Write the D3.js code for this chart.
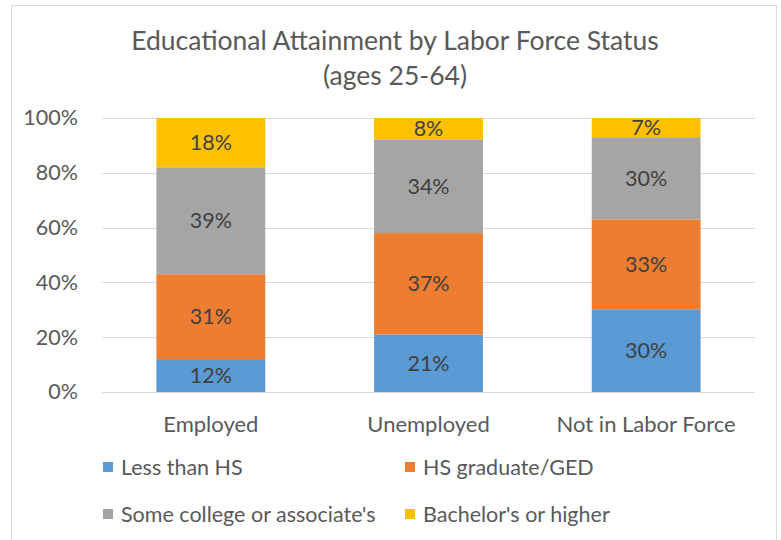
<!DOCTYPE html>
<html>
<head>
<meta charset="utf-8">
<script src="https://d3js.org/d3.v7.min.js"></script>
<style>
html,body{margin:0;padding:0;background:#fff;}
svg{display:block;font-family:Lato,"Open Sans",sans-serif;}
</style>
</head>
<body>
<svg id="chart" width="781" height="540"></svg>
<script>
const categories = ["Employed", "Unemployed", "Not in Labor Force"];
const seriesNames = ["Less than HS", "HS graduate/GED", "Some college or associate's", "Bachelor's or higher"];
const lessThanHS = [12, 21, 30];
const hsGraduate = [31, 37, 33];
const someCollege = [39, 34, 30];
const bachelors = [18, 8, 7];
const colors = ["#5B9BD5", "#ED7D31", "#A5A5A5", "#FFC000"];
const yTicks = [0, 20, 40, 60, 80, 100];

const seriesValues = [lessThanHS, hsGraduate, someCollege, bachelors];
const table = categories.map((c, i) => {
  const row = {category: c};
  seriesNames.forEach((s, j) => row[s] = seriesValues[j][i]);
  return row;
});
const stacked = d3.stack().keys(seriesNames)(table);

const svg = d3.select("#chart");
// chart border
svg.append("rect").attr("x", 11.5).attr("y", 5.5).attr("width", 765).attr("height", 545)
  .attr("fill", "#fff").attr("stroke", "#D9D9D9").attr("stroke-width", 1);

const x = d3.scaleBand().domain(categories).range([102, 755]).paddingInner(0.5).paddingOuter(0.25);
const y = d3.scaleLinear().domain([0, 100]).range([392, 118]);

// title
const title = svg.append("text").attr("text-anchor", "middle").attr("fill", "#595959")
  .attr("font-size", 26.5);
title.append("tspan").attr("x", 395).attr("y", 50).text("Educational Attainment by Labor Force Status");
title.append("tspan").attr("x", 395).attr("y", 85).text("(ages 25-64)");

// gridlines
svg.append("g").selectAll("line").data(yTicks).join("line")
  .attr("x1", 102).attr("x2", 755)
  .attr("y1", d => Math.round(y(d)) + 0.5).attr("y2", d => Math.round(y(d)) + 0.5)
  .attr("stroke", "#D9D9D9").attr("stroke-width", 1);

// y axis
const yAxis = d3.axisLeft(y).tickValues(yTicks).tickFormat(d => d + "%").tickSize(0).tickPadding(0);
const ga = svg.append("g").attr("transform", "translate(78,0)").call(yAxis);
ga.select(".domain").remove();
ga.selectAll("text").attr("font-size", 21.5).attr("fill", "#595959").attr("font-family", "Lato,sans-serif");

// bars
const layers = svg.append("g").selectAll("g").data(stacked).join("g")
  .attr("fill", (d, i) => colors[i]);
layers.selectAll("rect").data(d => d).join("rect")
  .attr("x", d => x(d.data.category))
  .attr("width", x.bandwidth())
  .attr("y", d => y(d[1]))
  .attr("height", d => y(d[0]) - y(d[1]));

// data labels
const lab = svg.append("g");
stacked.forEach((s, i) => {
  lab.selectAll(null).data(s).join("text")
    .attr("x", d => x(d.data.category) + x.bandwidth() / 2)
    .attr("y", d => (y(d[0]) + y(d[1])) / 2)
    .attr("dy", "0.35em")
    .attr("text-anchor", "middle")
    .attr("font-size", 21.5)
    .attr("fill", "#404040")
    .text(d => (d[1] - d[0]) + "%");
});

// x axis labels
const xAxis = d3.axisBottom(x).tickSize(0).tickPadding(0);
const gx = svg.append("g").attr("transform", "translate(0,424)").call(xAxis);
gx.select(".domain").remove();
gx.selectAll("text").attr("font-size", 22).attr("fill", "#595959").attr("dy", "0.35em").attr("font-family", "Lato,sans-serif");

// legend
const legPos = [[103, 467], [405, 467], [103, 514], [405, 514]];
const leg = svg.append("g").selectAll("g").data(seriesNames).join("g")
  .attr("transform", (d, i) => `translate(${legPos[i][0]},${legPos[i][1]})`);
leg.append("rect").attr("x", 0).attr("y", -5).attr("width", 10).attr("height", 10)
  .attr("fill", (d, i) => colors[i]);
leg.append("text").attr("x", 18).attr("dy", "0.35em").attr("font-size", 21.5)
  .attr("fill", "#595959").text(d => d);
</script>
</body>
</html>
